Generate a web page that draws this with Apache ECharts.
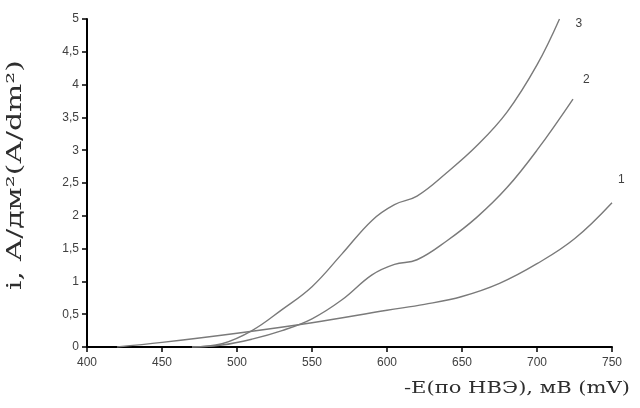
<!DOCTYPE html>
<html>
<head>
<meta charset="utf-8">
<script src="https://cdn.jsdelivr.net/npm/echarts@6/dist/echarts.min.js"></script>
<style>
  html, body { margin: 0; padding: 0; background: #fff; }
  #chart { width: 640px; height: 408px; }
</style>
</head>
<body>
<div id="chart"></div>
<script>
// Cathodic polarization curves: potential (-E, mV) vs current density (A/dm²)
const potential1 = [420, 450, 500, 550, 600, 625, 650, 675, 700, 725, 750];
const current1   = [0, 0.07, 0.21, 0.37, 0.56, 0.65, 0.77, 0.97, 1.27, 1.65, 2.2];

const potential2 = [470, 490, 510, 530, 550, 570, 590, 605, 620, 640, 660, 680, 700, 724];
const current2   = [0, 0.03, 0.12, 0.25, 0.43, 0.72, 1.1, 1.26, 1.33, 1.62, 1.98, 2.43, 3.0, 3.78];

const potential3 = [470, 490, 510, 530, 550, 570, 590, 605, 620, 640, 660, 680, 700, 715];
const current3   = [0, 0.05, 0.25, 0.57, 0.92, 1.42, 1.93, 2.17, 2.3, 2.66, 3.07, 3.58, 4.3, 5.0];

const curveNames = ['1', '2', '3'];

const xTitle = '-E(по НВЭ), мВ (mV)';
const yTitle = 'i, А/дм²(А/dm²)';

function pairs(xs, ys) {
  return xs.map((x, i) => [x, ys[i]]);
}

const lineColor = '#7a7a7a';
const tickFont = { fontFamily: 'Liberation Sans, Arial, sans-serif', fontSize: 12, color: '#404040' };

function curve(name, xs, ys, offset) {
  return {
    type: 'line',
    name: name,
    data: pairs(xs, ys),
    smooth: 0.4,
    showSymbol: false,
    symbol: 'none',
    lineStyle: { color: lineColor, width: 1.4 },
    endLabel: {
      show: true,
      formatter: name,
      offset: offset,
      ...tickFont
    },
    animation: false
  };
}

const chart = echarts.init(document.getElementById('chart'), null, { renderer: 'canvas' });
chart.setOption({
  backgroundColor: '#ffffff',
  animation: false,
  grid: { left: 87, right: 28, top: 19, bottom: 61, containLabel: false },
  xAxis: {
    type: 'value',
    min: 400, max: 750, interval: 50,
    axisLine: { lineStyle: { color: '#000', width: 2 } },
    axisTick: { show: true, length: 5, lineStyle: { color: '#000', width: 1.5 } },
    axisLabel: { margin: 10, ...tickFont },
    splitLine: { show: false }
  },
  yAxis: {
    type: 'value',
    min: 0, max: 5, interval: 0.5,
    axisLine: { show: true, lineStyle: { color: '#000', width: 2 } },
    axisTick: { show: true, length: 5, lineStyle: { color: '#000', width: 1.5 } },
    axisLabel: {
      margin: 8, ...tickFont,
      formatter: v => String(v).replace('.', ',')
    },
    splitLine: { show: false }
  },
  graphic: [
    {
      // horizontal axis title, widened serif lettering
      type: 'text',
      x: 630, y: 389,
      scaleX: 1.24,
      style: {
        text: xTitle,
        font: '17px "DejaVu Serif", serif',
        fill: '#2e2e2e',
        align: 'right', verticalAlign: 'middle',
        textAlign: 'right', textVerticalAlign: 'middle'
      }
    },
    {
      // vertical axis title
      type: 'text',
      x: 16, y: 175,
      rotation: Math.PI / 2,
      scaleX: 1.42,
      style: {
        text: yTitle,
        font: '21px "DejaVu Serif", serif',
        fill: '#2e2e2e',
        align: 'center', verticalAlign: 'middle',
        textAlign: 'center', textVerticalAlign: 'middle'
      }
    }
  ],
  series: [
    curve(curveNames[0], potential1, current1, [-2, -23]),
    curve(curveNames[1], potential2, current2, [2, -19]),
    curve(curveNames[2], potential3, current3, [8, 5])
  ]
});
</script>
</body>
</html>
